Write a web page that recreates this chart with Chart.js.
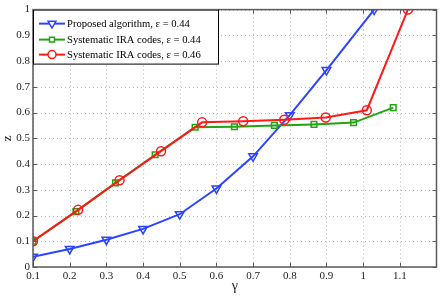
<!DOCTYPE html>
<html>
<head>
<meta charset="utf-8">
<script src="https://cdn.jsdelivr.net/npm/chart.js@4.4.1/dist/chart.umd.min.js"></script>
<style>
  html, body { margin: 0; padding: 0; background: #fff; }
  #wrap { width: 443px; height: 297px; }
</style>
</head>
<body>
<div id="wrap"><canvas id="chartCanvas" width="443" height="297"></canvas></div>
<script>
// Data

var gammaProposed = [0.1, 0.2, 0.3, 0.4, 0.5, 0.6, 0.7, 0.8, 0.9, 1.03];
var zProposed = [0.04, 0.07, 0.106, 0.148, 0.205, 0.305, 0.43, 0.59, 0.765, 1.0];

var gammaIra44 = [0.1, 0.217, 0.325, 0.433, 0.542, 0.649, 0.758, 0.866, 0.974, 1.082];
var zIra44 = [0.1, 0.215, 0.327, 0.436, 0.543, 0.545, 0.55, 0.554, 0.561, 0.619];

var gammaIra46 = [0.1, 0.223, 0.336, 0.449, 0.561, 0.673, 0.785, 0.898, 1.01, 1.122];
var zIra46 = [0.1, 0.222, 0.337, 0.45, 0.562, 0.566, 0.572, 0.581, 0.609, 1.0];

var seriesLabels = ['Proposed algorithm, \u03b5 = 0.44', 'Systematic IRA codes, \u03b5 = 0.44', 'Systematic IRA codes, \u03b5 = 0.46'];

var xTicks = [0.1, 0.2, 0.3, 0.4, 0.5, 0.6, 0.7, 0.8, 0.9, 1, 1.1];
var yTicks = [0, 0.1, 0.2, 0.3, 0.4, 0.5, 0.6, 0.7, 0.8, 0.9, 1];

var BLUE = '#2b44ff';
var GREEN = '#21a312';
var RED = '#ff1a1a';
var FONT = '"Liberation Serif", "Times New Roman", serif';

function toPoints(xs, ys) {
    return xs.map(function (x, i) {
        return { x: x, y: ys[i] };
    });
}

function fmt(v) {
    return String(Math.round(v * 10) / 10);
}

// dotted grid, drawn by hand since matlab style dots are wanted
var gridPlugin = {
    id: 'dotgrid',
    beforeDatasetsDraw: function (chart) {
        var ctx = chart.ctx;
        var a = chart.chartArea;
        ctx.save();
        ctx.strokeStyle = '#b4b4b4';
        ctx.lineWidth = 1;
        ctx.setLineDash([1, 3]);
        ctx.beginPath();
        xTicks.forEach(function (t) {
            var px = Math.round(chart.scales.x.getPixelForValue(t)) + 0.5;
            ctx.moveTo(px, a.top);
            ctx.lineTo(px, a.bottom);
        });
        yTicks.forEach(function (t) {
            var py = Math.round(chart.scales.y.getPixelForValue(t)) + 0.5;
            ctx.moveTo(a.left, py);
            ctx.lineTo(a.right, py);
        });
        ctx.stroke();
        ctx.restore();
    }
};

// frame, inward ticks and the legend box (drawn over the plot like matlab does)
var framePlugin = {
    id: 'frame',
    afterDatasetsDraw: function (chart) {
        var ctx = chart.ctx;
        var a = chart.chartArea;
        var xs = chart.scales.x;
        var ys = chart.scales.y;

        ctx.save();
        ctx.strokeStyle = '#5a5a5a';
        ctx.lineWidth = 1;
        ctx.beginPath();
        xTicks.forEach(function (t) {
            var px = Math.round(xs.getPixelForValue(t)) + 0.5;
            ctx.moveTo(px, a.bottom);
            ctx.lineTo(px, a.bottom - 4);
            ctx.moveTo(px, a.top);
            ctx.lineTo(px, a.top + 4);
        });
        yTicks.forEach(function (t) {
            var py = Math.round(ys.getPixelForValue(t)) + 0.5;
            ctx.moveTo(a.left, py);
            ctx.lineTo(a.left + 4, py);
            ctx.moveTo(a.right, py);
            ctx.lineTo(a.right - 4, py);
        });
        ctx.stroke();

        ctx.lineWidth = 1.5;
        ctx.strokeRect(a.left, a.top, a.right - a.left, a.bottom - a.top);

        // legend
        var lx = a.left, ly = a.top, lw = 185, lh = 54;
        ctx.fillStyle = '#fff';
        ctx.fillRect(lx, ly, lw, lh);
        ctx.strokeStyle = '#000';
        ctx.lineWidth = 1;
        ctx.strokeRect(lx + 0.5, ly + 0.5, lw, lh);

        var rows = [14, 30, 45];
        ctx.textBaseline = 'middle';
        ctx.textAlign = 'left';
        chart.data.datasets.forEach(function (ds, i) {
            var y = ly + rows[i];
            ctx.strokeStyle = ds.borderColor;
            ctx.lineWidth = 2;
            ctx.beginPath();
            ctx.moveTo(lx + 6, y);
            ctx.lineTo(lx + 32, y);
            ctx.stroke();
            ctx.fillStyle = '#fff';
            ctx.lineWidth = ds.pointBorderWidth;
            Chart.helpers.drawPoint(ctx, {
                pointStyle: ds.pointStyle,
                rotation: ds.pointRotation || 0,
                radius: ds.pointRadius - 0.5,
                borderWidth: ds.pointBorderWidth
            }, lx + 19, y);
            ctx.fillStyle = '#000';
            ctx.font = '10.6px ' + FONT;
            ctx.fillText(ds.label, lx + 34, y + 1);
        });
        ctx.restore();
    }
};

var chartData = {
    datasets: [{
        label: seriesLabels[0],
        data: toPoints(gammaProposed, zProposed),
        borderColor: BLUE,
        backgroundColor: 'rgba(0,0,0,0)',
        borderWidth: 2,
        pointStyle: 'triangle',
        pointRotation: 180,
        pointRadius: 5,
        pointBorderWidth: 1.5,
        order: 2
    }, {
        label: seriesLabels[1],
        data: toPoints(gammaIra44, zIra44),
        borderColor: GREEN,
        backgroundColor: 'rgba(0,0,0,0)',
        borderWidth: 2,
        pointStyle: 'rect',
        pointRadius: 4,
        pointBorderWidth: 1.5,
        order: 1
    }, {
        label: seriesLabels[2],
        data: toPoints(gammaIra46, zIra46),
        borderColor: RED,
        backgroundColor: 'rgba(0,0,0,0)',
        borderWidth: 2,
        pointStyle: 'circle',
        pointRadius: 4.5,
        pointBorderWidth: 1.5,
        order: 0
    }]
};

new Chart(document.getElementById('chartCanvas'), {
    type: 'scatter',
    data: chartData,
    plugins: [gridPlugin, framePlugin],
    options: {
        responsive: false,
        animation: false,
        showLine: true,
        layout: { padding: { left: 0, right: 5, top: 8, bottom: 0 } },
        plugins: {
            legend: { display: false },
            tooltip: { enabled: false }
        },
        scales: {
            x: {
                type: 'linear',
                min: 0.1,
                max: 1.2,
                afterFit: function (s) { s.height = 30; },
                afterBuildTicks: function (s) {
                    s.ticks = xTicks.map(function (v) { return { value: v }; });
                },
                border: { display: false },
                grid: { display: false, drawTicks: false },
                ticks: {
                    padding: 3,
                    color: '#222',
                    maxRotation: 0,
                    font: { family: FONT, size: 11 },
                    callback: function (v) { return fmt(v); }
                },
                title: {
                    display: true,
                    text: '\u03b3',
                    color: '#222',
                    padding: { top: 0, bottom: 2 },
                    font: { family: FONT, size: 14 }
                }
            },
            y: {
                type: 'linear',
                min: 0,
                max: 1,
                afterFit: function (s) { s.width = 33; },
                afterBuildTicks: function (s) {
                    s.ticks = yTicks.map(function (v) { return { value: v }; });
                },
                border: { display: false },
                grid: { display: false, drawTicks: false },
                ticks: {
                    padding: 3,
                    color: '#222',
                    font: { family: FONT, size: 11 },
                    callback: function (v) { return fmt(v); }
                },
                title: {
                    display: true,
                    text: 'z',
                    color: '#222',
                    padding: { top: 0, bottom: 0 },
                    font: { family: FONT, size: 13 }
                }
            }
        }
    }
});
</script>
</body>
</html>
